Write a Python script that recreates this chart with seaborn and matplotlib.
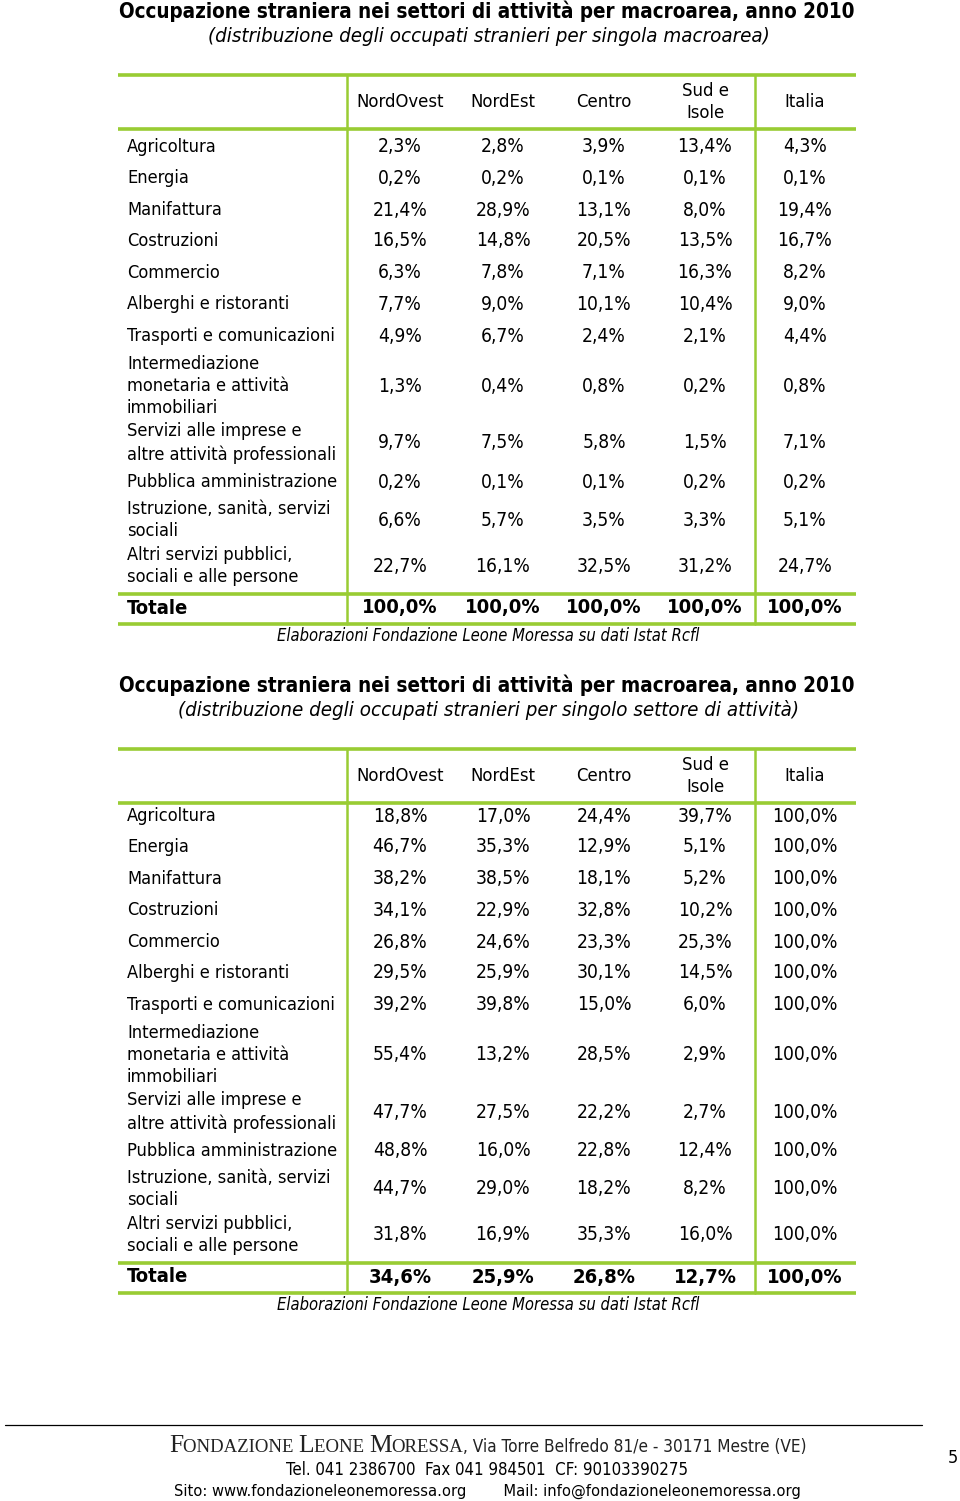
import matplotlib
matplotlib.use("Agg")
import matplotlib.pyplot as plt
import seaborn as sns

# ---- data ----------------------------------------------------------------
sectors = [
    "Agricoltura",
    "Energia",
    "Manifattura",
    "Costruzioni",
    "Commercio",
    "Alberghi e ristoranti",
    "Trasporti e comunicazioni",
    "Intermediazione\nmonetaria e attività\nimmobiliari",
    "Servizi alle imprese e\naltre attività professionali",
    "Pubblica amministrazione",
    "Istruzione, sanità, servizi\nsociali",
    "Altri servizi pubblici,\nsociali e alle persone",
]
areas = ["NordOvest", "NordEst", "Centro", "Sud e\nIsole", "Italia"]

# table 1: distribution per macro area
t1_nordovest = [2.3, 0.2, 21.4, 16.5, 6.3, 7.7, 4.9, 1.3, 9.7, 0.2, 6.6, 22.7]
t1_nordest = [2.8, 0.2, 28.9, 14.8, 7.8, 9.0, 6.7, 0.4, 7.5, 0.1, 5.7, 16.1]
t1_centro = [3.9, 0.1, 13.1, 20.5, 7.1, 10.1, 2.4, 0.8, 5.8, 0.1, 3.5, 32.5]
t1_sud = [13.4, 0.1, 8.0, 13.5, 16.3, 10.4, 2.1, 0.2, 1.5, 0.2, 3.3, 31.2]
t1_italia = [4.3, 0.1, 19.4, 16.7, 8.2, 9.0, 4.4, 0.8, 7.1, 0.2, 5.1, 24.7]
t1_totale = [100.0, 100.0, 100.0, 100.0, 100.0]

# table 2: distribution per sector
t2_nordovest = [18.8, 46.7, 38.2, 34.1, 26.8, 29.5, 39.2, 55.4, 47.7, 48.8, 44.7, 31.8]
t2_nordest = [17.0, 35.3, 38.5, 22.9, 24.6, 25.9, 39.8, 13.2, 27.5, 16.0, 29.0, 16.9]
t2_centro = [24.4, 12.9, 18.1, 32.8, 23.3, 30.1, 15.0, 28.5, 22.2, 22.8, 18.2, 35.3]
t2_sud = [39.7, 5.1, 5.2, 10.2, 25.3, 14.5, 6.0, 2.9, 2.7, 12.4, 8.2, 16.0]
t2_italia = [100.0] * 12
t2_totale = [34.6, 25.9, 26.8, 12.7, 100.0]

title = "Occupazione straniera nei settori di attività per macroarea, anno 2010"
sub1 = "(distribuzione degli occupati stranieri per singola macroarea)"
sub2 = "(distribuzione degli occupati stranieri per singolo settore di attività)"
source = "Elaborazioni Fondazione Leone Moressa su dati Istat Rcfl"

# ---- layout --------------------------------------------------------------
sns.set_theme(style="white")
plt.rcParams["font.family"] = ["DejaVu Sans"]
plt.rcParams["text.color"] = "black"
STRETCH = "condensed"
GREEN = "#99cc33"

col_x = [400, 503, 604, 705, 805]
row_y = [147, 178, 210, 241, 273, 304, 336, 386, 443, 482, 520, 566]

fig = plt.figure(figsize=(9.6, 15.01), dpi=100)
ax = fig.add_axes([0, 0, 1, 1])
ax.set_xlim(0, 960)
ax.set_ylim(1501, 0)
ax.axis("off")


def pct(v):
    return f"{v:.1f}".replace(".", ",") + "%"


def draw_table(top, body, subtitle, columns, totals):
    ax.text(487, 11 + top, title, ha="center", va="center", fontsize=14.8,
            weight="bold", fontstretch=STRETCH)
    ax.text(489, 36 + top, subtitle, ha="center", va="center", fontsize=14.7,
            style="italic", fontstretch=STRETCH)

    for y in (75 + top, 129 + top, 594 + body, 624 + body):
        ax.plot([118, 856], [y, y], color=GREEN, lw=2.6, solid_capstyle="butt")
    for x in (347, 755):
        ax.plot([x, x], [75 + top, 624 + body], color=GREEN, lw=1.8)

    for x, name in zip(col_x, areas):
        ax.text(x, 102 + top, name, ha="center", va="center", fontsize=13.2,
                linespacing=1.32, fontstretch=STRETCH)

    for i, (y, label) in enumerate(zip(row_y, sectors)):
        ax.text(127, y + body, label, ha="left", va="center", fontsize=13.1,
                linespacing=1.32, fontstretch=STRETCH)
        for x, col in zip(col_x, columns):
            ax.text(x, y + body, pct(col[i]), ha="center", va="center",
                    fontsize=13.8, fontstretch=STRETCH)

    ax.text(127, 608 + body, "Totale", ha="left", va="center", fontsize=14.5,
            weight="bold", fontstretch=STRETCH)
    for x, v in zip(col_x, totals):
        ax.text(x, 608 + body, pct(v), ha="center", va="center", fontsize=14.5,
                weight="bold", fontstretch=STRETCH)

    ax.text(488, 636 + body, source, ha="center", va="center", fontsize=11.9,
            style="italic", fontstretch=STRETCH)


draw_table(0, 0, sub1, [t1_nordovest, t1_nordest, t1_centro, t1_sud, t1_italia], t1_totale)
draw_table(674, 669, sub2, [t2_nordovest, t2_nordest, t2_centro, t2_sud, t2_italia], t2_totale)

# ---- footer --------------------------------------------------------------
ax.plot([5, 922], [1425, 1425], color="black", lw=0.9)

renderer = fig.canvas.get_renderer()
pieces = [
    ("F", dict(family="Liberation Serif", fontsize=18.4)),
    ("ONDAZIONE ", dict(family="Liberation Serif", fontsize=13.5)),
    ("L", dict(family="Liberation Serif", fontsize=18.4)),
    ("EONE ", dict(family="Liberation Serif", fontsize=13.5)),
    ("M", dict(family="Liberation Serif", fontsize=18.4)),
    ("ORESSA", dict(family="Liberation Serif", fontsize=13.5)),
    (", Via Torre Belfredo 81/e - 30171 Mestre (VE)",
     dict(family="DejaVu Sans", fontsize=12.3, fontstretch=STRETCH)),
]
texts = []
cursor = 0.0
for s, kw in pieces:
    t = ax.text(cursor, 1452, s, ha="left", va="baseline", color="#222222", **kw)
    w = t.get_window_extent(renderer).width
    texts.append((t, cursor))
    cursor += w
shift = 488 - cursor / 2
for t, x0 in texts:
    t.set_x(x0 + shift)

ax.text(487, 1470, "Tel. 041 2386700  Fax 041 984501  CF: 90103390275",
        ha="center", va="center", fontsize=12.1, fontstretch=STRETCH)
ax.text(487, 1491, "Sito: www.fondazioneleonemoressa.org        Mail: info@fondazioneleonemoressa.org",
        ha="center", va="center", fontsize=11.8, fontstretch=STRETCH)
ax.text(953, 1458, "5", ha="center", va="center", fontsize=13, fontstretch=STRETCH)

fig.savefig("out.png", dpi=100)
